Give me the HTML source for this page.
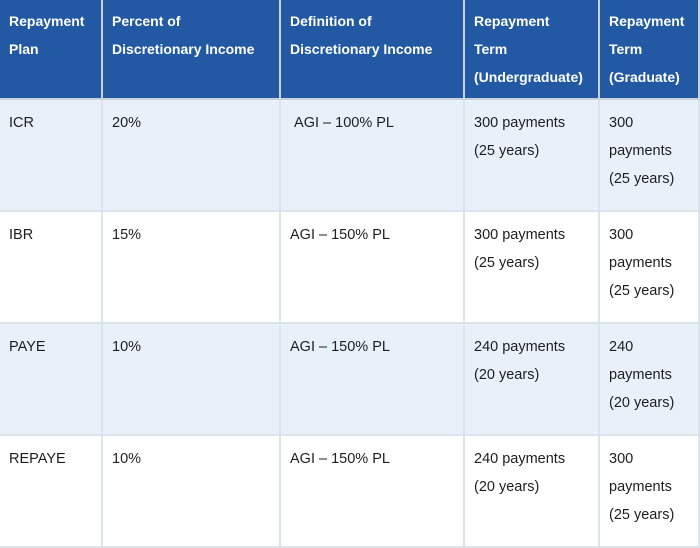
<!DOCTYPE html>
<html><head><meta charset="utf-8"><style>
body{margin:0;width:700px;height:535px;background:#fff;overflow:hidden;font-family:"Liberation Sans",sans-serif}
table{position:absolute;left:-2px;top:-2px;border-collapse:collapse;table-layout:fixed;width:700px}
td,th{border:2px solid #dde3ea;vertical-align:top;text-align:left;padding:9px 9px 0 9px;font-size:14.5px;line-height:28px;color:#1e1e1e;font-weight:normal}
th{background:#2359a3;color:#fff;font-weight:bold;font-size:14px;height:91px;border-color:#c9d3e0;padding-top:7px}
tr.alt td{background:#e8f0fa}
tr.b td{height:101px}
</style></head><body>
<table>
<colgroup><col style="width:103px"><col style="width:178px"><col style="width:184px"><col style="width:135px"><col style="width:100px"></colgroup>
<tr>
<th>Repayment Plan</th>
<th>Percent of Discretionary Income</th>
<th>Definition of Discretionary Income</th>
<th>Repayment<br>Term<br>(Undergraduate)</th>
<th>Repayment<br>Term<br>(Graduate)</th>
</tr>
<tr class="alt b">
<td>ICR</td><td>20%</td><td>&nbsp;AGI – 100% PL</td><td>300 payments<br>(25 years)</td><td>300<br>payments<br>(25 years)</td>
</tr>
<tr class="b">
<td>IBR</td><td>15%</td><td>AGI – 150% PL</td><td>300 payments<br>(25 years)</td><td>300<br>payments<br>(25 years)</td>
</tr>
<tr class="alt b">
<td>PAYE</td><td>10%</td><td>AGI – 150% PL</td><td>240 payments<br>(20 years)</td><td>240<br>payments<br>(20 years)</td>
</tr>
<tr class="b">
<td>REPAYE</td><td>10%</td><td>AGI – 150% PL</td><td>240 payments<br>(20 years)</td><td>300<br>payments<br>(25 years)</td>
</tr>
</table>
</body></html>
